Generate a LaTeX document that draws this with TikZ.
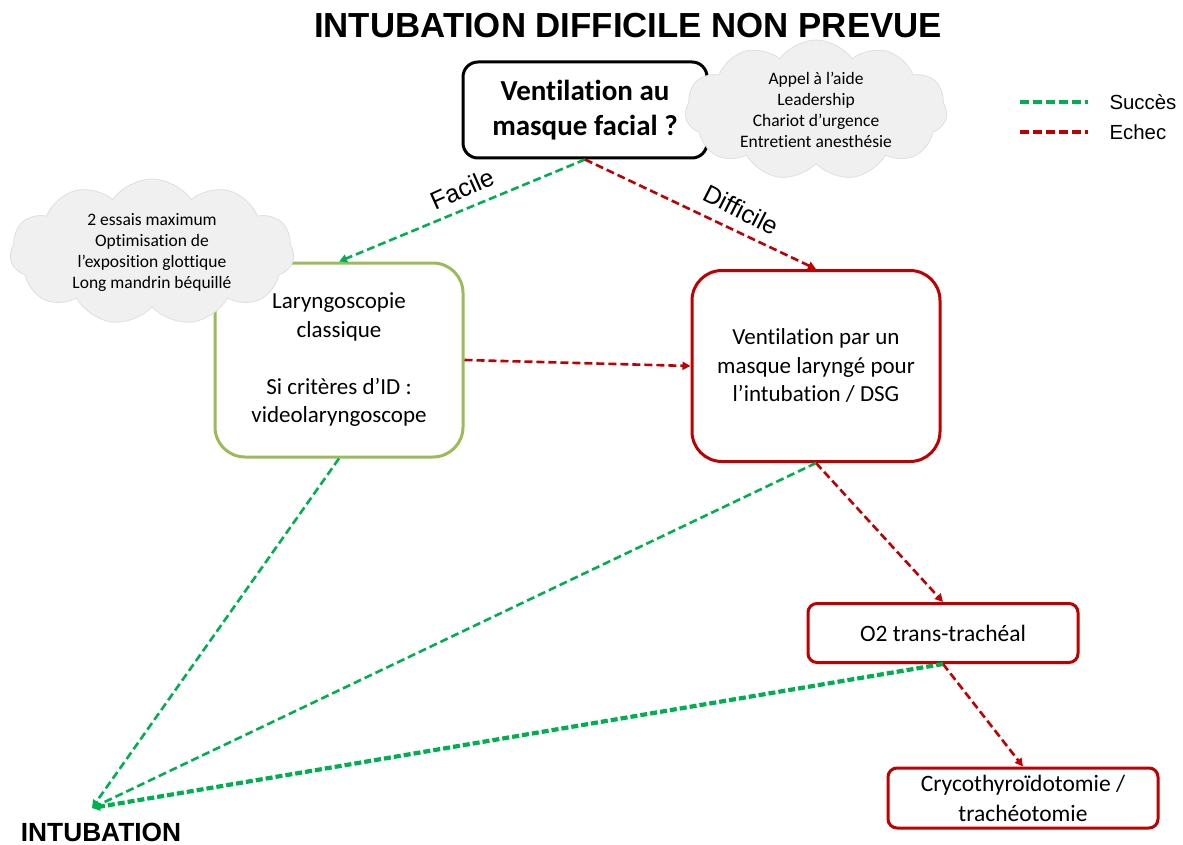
\documentclass[tikz,border=0pt]{standalone}
\usepackage{fontspec}
\setmainfont{Carlito}[RawFeature={-liga}]
\newfontfamily\arialfont{Liberation Sans}
\usetikzlibrary{positioning, shapes.symbols, calc, arrows.meta}
\definecolor{vert}{HTML}{00B050}
\definecolor{rouge}{HTML}{C00000}
\definecolor{olive}{HTML}{9BBB59}
\tikzset{
        step-box/.style={
            rectangle, draw, line width=3pt, align=center,
            font=\fontsize{23}{28.5}\selectfont
        },
        bulle/.style={
            cloud, cloud puffs=11, cloud puff arc=110, aspect=2, inner sep=0pt,
            draw=gray!25, fill=gray!12, line width=0.8pt, align=center,
            font=\fontsize{17.5}{21}\selectfont
        },
        succes/.style={
            draw=vert, line width=2.6pt, dash pattern=on 8pt off 4pt,
            -{Triangle[length=8pt, width=8pt]}
        },
        echec/.style={
            draw=rouge, line width=2.6pt, dash pattern=on 8pt off 4pt,
            -{Triangle[length=8pt, width=8pt]}
        },
}

\begin{document}
\begin{tikzpicture}[x=1pt, y=-1pt]

        \useasboundingbox (0,0) rectangle (1183,845);

        % DRAW NODES (at pixel coordinates of the sheet)
        \node[font=\arialfont\bfseries\fontsize{34.8}{36}\selectfont] (TITLE) at (628,26) {INTUBATION DIFFICILE NON PREVUE};
        \node[step-box, rounded corners=15pt, minimum width=244pt, minimum height=96pt,
              font=\bfseries\fontsize{29}{35}\selectfont]                  (VMF) at (585,110)   {Ventilation au\\masque facial ?};
        \node[bulle, minimum width=262pt, minimum height=140pt]            (CLD1) at (816,110)  {Appel à l’aide\\Leadership\\Chariot d’urgence\\Entretient anesthésie};
        \node[step-box, draw=olive, rounded corners=30pt, minimum width=248pt, minimum height=194pt]
                                                                          (LC)  at (339,360)   {Laryngoscopie\\classique\\[28.5pt]Si critères d’ID :\\videolaryngoscope};
        \node[bulle, minimum width=284pt, minimum height=146pt]            (CLD2) at (152,252)  {2 essais maximum\\Optimisation de\\l’exposition glottique\\Long mandrin béquillé};
        \node[step-box, draw=rouge, rounded corners=30pt, minimum width=248pt, minimum height=191pt]
                                                                          (VML) at (816,366)   {Ventilation par un\\masque laryngé pour\\l’intubation / DSG};
        \node[step-box, draw=rouge, rounded corners=9pt, minimum width=270pt, minimum height=59pt,
              font=\fontsize{23.5}{30}\selectfont]                          (O2)  at (943,633)   {O2 trans-trachéal};
        \node[step-box, draw=rouge, rounded corners=9pt, minimum width=270pt, minimum height=60pt,
              font=\fontsize{23.5}{30}\selectfont]                          (CRY) at (1023,798)  {Crycothyroïdotomie /\\trachéotomie};
        \node[font=\arialfont\bfseries\fontsize{26.3}{28}\selectfont]       (INT) at (101,832)   {INTUBATION};
        \coordinate                                                        (TIP) at (92,808);

        % LEGEND
        \node[anchor=west, font=\arialfont\fontsize{20.4}{24}\selectfont] (SUC) at (1106,102)  {Succès};
        \node[anchor=west, font=\arialfont\fontsize{20.4}{24}\selectfont] (ECH) at (1106,132)  {Echec};
        \draw [draw=vert,  line width=3.4pt, dash pattern=on 9pt off 4pt] ($(SUC.west)+(-86,0)$) -- ($(SUC.west)+(-18,0)$);
        \draw [draw=rouge, line width=3.4pt, dash pattern=on 9pt off 4pt] ($(ECH.west)+(-86,0)$) -- ($(ECH.west)+(-18,0)$);

        % CONNECT FIRST CHOICE
        \draw [succes] (VMF.south) -- (LC.north);
        \draw [echec]  (VMF.south) -- (VML.north);
        \node[rotate=24,  font=\arialfont\fontsize{25}{27}\selectfont] (FAC) at (462,189) {Facile};
        \node[rotate=-27, font=\arialfont\fontsize{25}{27}\selectfont] (DIF) at (741,210) {Difficile};

        % CONNECT FAILURES
        \draw [echec] (LC.east)   -- (VML.west);
        \draw [echec] (VML.south) -- (O2.north);
        \draw [echec] (O2.south)  -- (CRY.north);

        % CONNECT SUCCESSES
        \draw [succes] (LC.south)  -- (TIP);
        \draw [succes] (VML.south) -- (TIP);
        \draw [succes, line width=4.2pt, dash pattern=on 7pt off 3pt] (O2.south) -- (TIP);

\end{tikzpicture}
\end{document}
